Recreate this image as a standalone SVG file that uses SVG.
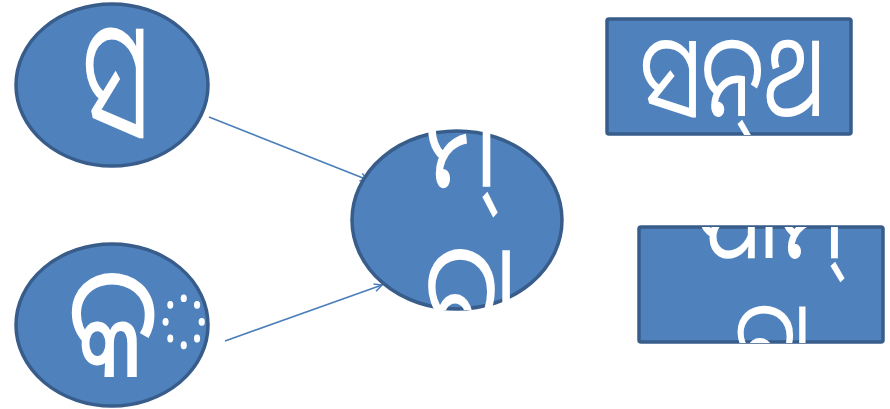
<svg xmlns="http://www.w3.org/2000/svg" width="890" height="409" viewBox="0 0 890 409">
<style>
.shape{fill:#4F81BD;stroke:#385D8A;stroke-width:3.5}
.t{fill:#FFFFFF;font-family:"Noto Sans Oriya","Noto Sans","DejaVu Sans","Liberation Sans",sans-serif}
.conn{stroke:#4A7EBB;stroke-width:1.6;fill:none;marker-end:url(#arr)}
</style>
<defs>
<marker id="arr" viewBox="0 0 10 10" refX="9" refY="5" markerWidth="6" markerHeight="6" orient="auto" markerUnits="strokeWidth">
<path d="M1,1 L9,5 L1,9" fill="none" stroke="#4A7EBB" stroke-width="1.6"/>
</marker>
<clipPath id="cC"><rect x="351" y="130" width="212" height="180"/></clipPath>
<clipPath id="cR1"><rect x="607" y="19" width="244" height="116"/></clipPath>
<clipPath id="cR2"><rect x="639" y="227" width="244" height="116"/></clipPath>
</defs>
<g id="connectors">
<line class="conn" x1="209" y1="117" x2="368" y2="180"/>
<line class="conn" x1="225" y1="341" x2="382" y2="285"/>
</g>
<g id="node-sa">
<ellipse class="shape" cx="112" cy="85" rx="96" ry="81"/>
<text class="t" transform="translate(116,136) scale(1,1.7)" text-anchor="middle" font-size="96">ସ</text>
</g>
<g id="node-ka">
<ellipse class="shape" cx="112" cy="325" rx="96" ry="81"/>
<text class="t" transform="translate(68,377) scale(1,1.3)" font-size="120">କ<tspan font-size="104" dx="-16" dy="-8">◌</tspan></text>
</g>
<g id="node-center">
<ellipse class="shape" cx="457" cy="220" rx="105" ry="89"/>
<g clip-path="url(#cC)">
<text class="t" transform="translate(425,187) scale(1,1.5)" font-size="96">ମି୍</text>
<text class="t" transform="translate(425,345) scale(1,1.5)" font-size="96">ରା</text>
</g>
</g>
<g id="node-box1">
<rect class="shape" x="607" y="19" width="244" height="115" rx="2"/>
<g clip-path="url(#cR1)">
<text class="t" transform="translate(640,116) scale(1,1.3)" font-size="88">ସନ୍‌ଥ</text>
</g>
</g>
<g id="node-box2">
<rect class="shape" x="639" y="227" width="244" height="115" rx="2"/>
<g clip-path="url(#cR2)">
<text class="t" transform="translate(695,258) scale(1,1.3)" font-size="88">ପାମି୍</text>
<text class="t" transform="translate(735,375) scale(1,1.3)" font-size="80">ରା</text>
</g>
</g>
</svg>
